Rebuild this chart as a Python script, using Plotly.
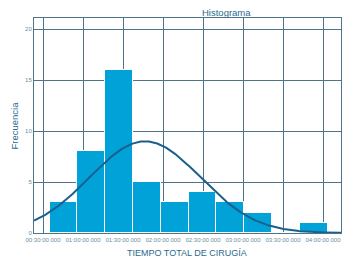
import numpy as np
import plotly.graph_objects as go

# Data (minutes since 00:00)
counts = [3, 8, 16, 5, 3, 4, 3, 2, 0, 1]
bin_start = 34.9
bin_width = 20.85
tick_vals = [30, 60, 90, 120, 150, 180, 210, 240]
tick_text = ["00:30:00.000", "01:00:00.000", "01:30:00.000", "02:00:00.000",
             "02:30:00.000", "03:00:00.000", "03:30:00.000", "04:00:00.000"]
mean_min = 106.5
sd_min = 41.6
n_total = sum(counts)

centers = [bin_start + bin_width * (i + 0.5) for i in range(len(counts))]

xr = [23.25, 253.5]
xs = np.linspace(xr[0], xr[1], 300)
ys = n_total * bin_width / (sd_min * np.sqrt(2 * np.pi)) * np.exp(-0.5 * ((xs - mean_min) / sd_min) ** 2)

grid_c = "#4f7389"
text_c = "#2a6a8f"
tick_c = "#6a8da3"

fig = go.Figure()
fig.add_trace(go.Bar(x=centers, y=counts, width=bin_width,
                     marker=dict(color="#00a2d8", line=dict(color="white", width=1)),
                     hoverinfo="skip"))
fig.add_trace(go.Scatter(x=xs, y=ys, mode="lines",
                         line=dict(color="#1b5f8c", width=2), hoverinfo="skip"))

fig.update_layout(
    width=344, height=266,
    margin=dict(l=34, r=3, t=18, b=33, autoexpand=False),
    paper_bgcolor="white", plot_bgcolor="white",
    showlegend=False, bargap=0,
    font=dict(family="Liberation Sans, Arial, sans-serif", color=text_c),
    xaxis=dict(range=xr, tickvals=tick_vals, ticktext=tick_text, automargin=False,
               tickfont=dict(size=6, color=tick_c), showgrid=True,
               gridcolor=grid_c, gridwidth=1, zeroline=False,
               showline=True, linecolor=grid_c, mirror=True, ticks="", ticklabelstandoff=1),
    yaxis=dict(range=[0, 21.1], tickvals=[0, 5, 10, 15, 20], automargin=False,
               tickfont=dict(size=6, color=tick_c), showgrid=True,
               gridcolor=grid_c, gridwidth=1, zeroline=False,
               showline=True, linecolor=grid_c, mirror=True, ticks=""),
    annotations=[
        dict(text="Histograma", xref="paper", yref="paper", x=(227 - 34) / 307, y=1, yshift=6,
             xanchor="center", yanchor="middle", showarrow=False,
             font=dict(size=9.5, color=text_c)),
        dict(text="TIEMPO TOTAL DE CIRUGÍA", xref="paper", yref="paper",
             x=(187 - 34) / 307, y=0, yshift=-20, showarrow=False,
             xanchor="center", yanchor="middle",
             font=dict(size=9, color=text_c)),
        dict(text="Frecuencia", xref="paper", yref="paper", x=0, xshift=-20, y=0.5,
             xanchor="center", yanchor="middle", textangle=-90, showarrow=False,
             font=dict(size=9.5, color=text_c)),
    ],
)

fig.write_html("out.html", config={"displayModeBar": False},
               post_script="document.body.style.margin='0';")
